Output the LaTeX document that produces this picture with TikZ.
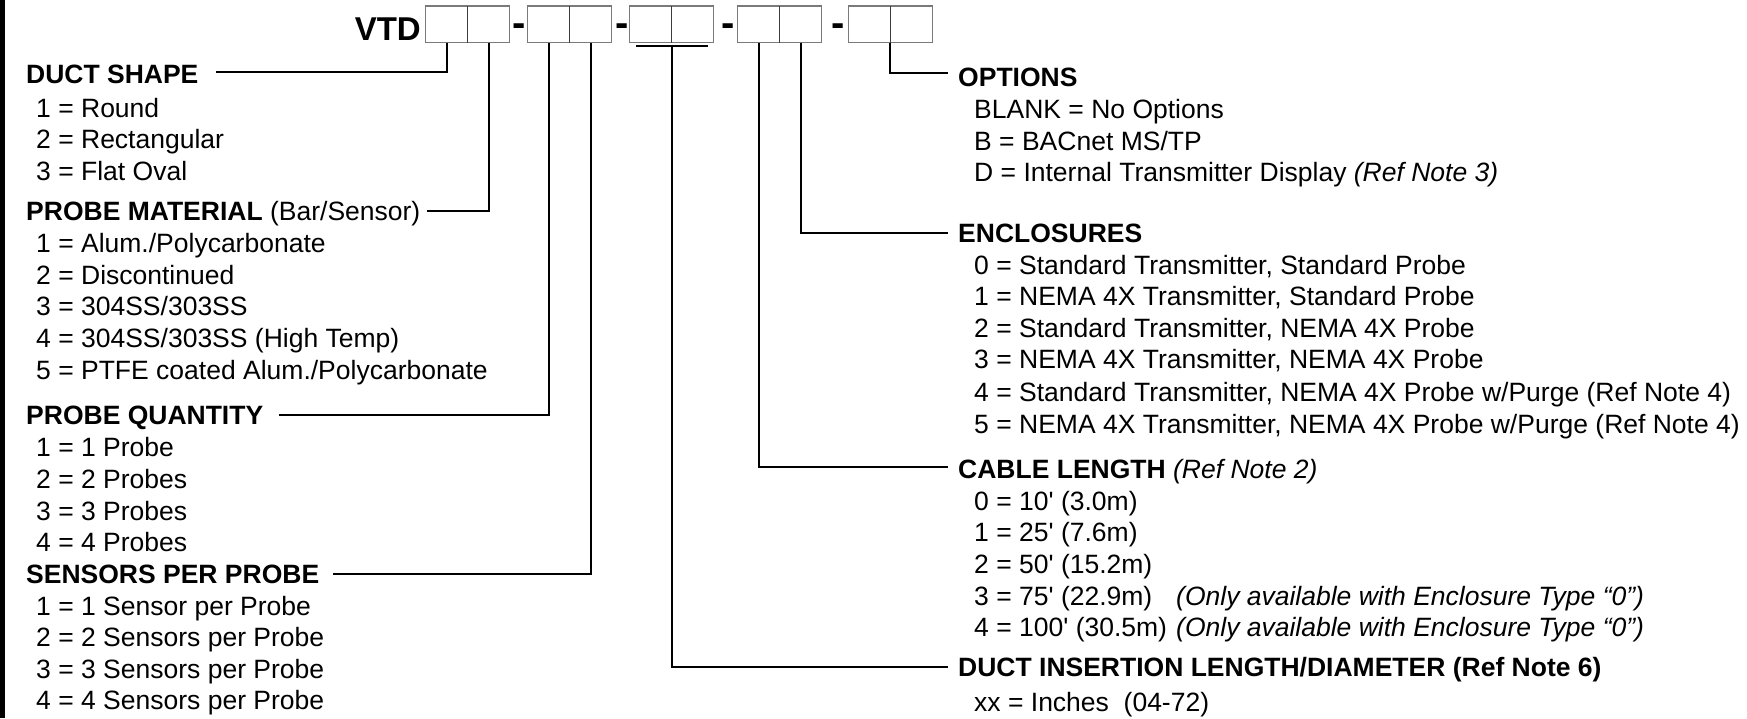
\documentclass[tikz,border=0pt]{standalone}
\usepackage{fontspec}
\setmainfont{Liberation Sans}[Ligatures=TeXOff]
\usetikzlibrary{calc}
\definecolor{boxgray}{HTML}{7A7A7A}
\definecolor{divgray}{HTML}{3C3C3C}
\begin{document}
\begin{tikzpicture}[x=1pt,y=-1pt,
  txt/.style={anchor=base west, inner sep=0pt, font=\fontsize{26.5}{30}\selectfont},
  head/.style={anchor=base west, inner sep=0pt, font=\fontsize{26.5}{30}\selectfont\bfseries, text height=19pt, text depth=0pt},
  conn/.style={line width=2pt, black},
  grp/.style={draw=boxgray, line width=1.5pt, minimum width=84pt, minimum height=36.5pt, inner sep=0pt, outer sep=0pt},
  divl/.style={draw=divgray, line width=1.5pt},
  hyph/.style={anchor=base, inner sep=0pt, font=\fontsize{40}{40}\selectfont\bfseries}
]
\useasboundingbox (0,0) rectangle (1747,718);
\fill[black] (0,0) rectangle (5,718);

% code boxes
\node[anchor=base east, inner sep=0pt, font=\fontsize{33}{33}\selectfont\bfseries] (vtd) at (421,40) {VTD};
\node[grp] (g1) at (467.7,24.25) {};
\node[grp] (g2) at (569.7,24.25) {};
\node[grp] (g3) at (671.7,24.25) {};
\node[grp] (g4) at (779.7,24.25) {};
\node[grp] (g5) at (890.3,24.25) {};
\foreach \g in {g1,g2,g3,g4,g5} { \draw[divl] (\g.north) -- (\g.south); }
\node[hyph] (h1) at (519,36) {-};
\node[hyph] (h2) at (622,36) {-};
\node[hyph] (h3) at (728,36) {-};
\node[hyph] (h4) at (838,36) {-};

% left column
\node[head] (ds) at (26,83.3) {DUCT SHAPE};
\node[txt] (ds1) at (36,117.0) {1 = Round};
\node[txt] (ds2) at (36,148.6) {2 = Rectangular};
\node[txt] (ds3) at (36,180.0) {3 = Flat Oval};
\node[head] (pm) at (26,220.0) {PROBE MATERIAL \textmd{(Bar/Sensor)}};
\node[txt] (pm1) at (36,252.7) {1 = Alum./Polycarbonate};
\node[txt] (pm2) at (36,284.3) {2 = Discontinued};
\node[txt] (pm3) at (36,315.9) {3 = 304SS/303SS};
\node[txt] (pm4) at (36,347.5) {4 = 304SS/303SS (High Temp)};
\node[txt] (pm5) at (36,379.1) {5 = PTFE coated Alum./Polycarbonate};
\node[head] (pq) at (26,424.0) {PROBE QUANTITY};
\node[txt] (pq1) at (36,456.7) {1 = 1 Probe};
\node[txt] (pq2) at (36,488.3) {2 = 2 Probes};
\node[txt] (pq3) at (36,520.0) {3 = 3 Probes};
\node[txt] (pq4) at (36,551.7) {4 = 4 Probes};
\node[head] (spp) at (26,583.0) {SENSORS PER PROBE};
\node[txt] (spp1) at (36,615.0) {1 = 1 Sensor per Probe};
\node[txt] (spp2) at (36,646.5) {2 = 2 Sensors per Probe};
\node[txt] (spp3) at (36,678.0) {3 = 3 Sensors per Probe};
\node[txt] (spp4) at (36,709.5) {4 = 4 Sensors per Probe};

% right column
\node[head] (opt) at (958,86.7) {OPTIONS};
\node[txt] (opt1) at (974,118.3) {BLANK = No Options};
\node[txt] (opt2) at (974,150.0) {B = BACnet MS/TP};
\node[txt] (opt3) at (974,181.7) {D = Internal Transmitter Display \textit{(Ref Note 3)}};
\node[head] (enc) at (958,242.7) {ENCLOSURES};
\node[txt] (enc0) at (974,274.0) {0 = Standard Transmitter, Standard Probe};
\node[txt] (enc1) at (974,305.5) {1 = NEMA 4X Transmitter, Standard Probe};
\node[txt] (enc2) at (974,337.0) {2 = Standard Transmitter, NEMA 4X Probe};
\node[txt] (enc3) at (974,368.5) {3 = NEMA 4X Transmitter, NEMA 4X Probe};
\node[txt] (enc4) at (974,401.0) {4 = Standard Transmitter, NEMA 4X Probe w/Purge (Ref Note 4)};
\node[txt] (enc5) at (974,433.0) {5 = NEMA 4X Transmitter, NEMA 4X Probe w/Purge (Ref Note 4)};
\node[head] (cab) at (958,478.3) {CABLE LENGTH \textmd{\textit{(Ref Note 2)}}};
\node[txt] (cab0) at (974,510.0) {0 = 10' (3.0m)};
\node[txt] (cab1) at (974,541.7) {1 = 25' (7.6m)};
\node[txt] (cab2) at (974,573.3) {2 = 50' (15.2m)};
\node[txt] (cab3) at (974,605.0) {3 = 75' (22.9m)};
\node[txt] (cab3n) at (1176,605.0) {\textit{(Only available with Enclosure Type “0”)}};
\node[txt] (cab4) at (974,636.7) {4 = 100' (30.5m)};
\node[txt] (cab4n) at (1176,636.7) {\textit{(Only available with Enclosure Type “0”)}};
\node[head] (dil) at (958,676.7) {DUCT INSERTION LENGTH/DIAMETER (Ref Note 6)};
\node[txt] (dilx) at (974,711.7) {xx = Inches\ \ (04-72)};

% connectors
\coordinate (g1a) at ($(g1.south west)!0.25!(g1.south east)$);
\coordinate (g1b) at ($(g1.south west)!0.75!(g1.south east)$);
\coordinate (g2a) at ($(g2.south west)!0.25!(g2.south east)$);
\coordinate (g2b) at ($(g2.south west)!0.75!(g2.south east)$);
\coordinate (g4a) at ($(g4.south west)!0.25!(g4.south east)$);
\coordinate (g4b) at ($(g4.south west)!0.75!(g4.south east)$);
\coordinate (g3u) at ([yshift=-3.2pt]g3.south);
\draw[conn] ([xshift=6.5pt,yshift=-3.2pt]g3.south west) -- ([xshift=-6pt,yshift=-3.2pt]g3.south east);

\draw[conn] (g1a) |- ([xshift=17pt,yshift=2pt]ds.east);
\draw[conn] (g1b) |- ([xshift=6pt]pm.east);
\draw[conn] (g2a) |- ([xshift=16pt]pq.east);
\draw[conn] (g2b) |- ([xshift=14pt]spp.east);
\draw[conn] (g3u) |- ([xshift=-10pt]dil.west);
\draw[conn] (g4a) |- ([xshift=-10pt,yshift=2pt]cab.west);
\draw[conn] (g4b) |- ([xshift=-10pt]enc.west);
\draw[conn] (g5.south) |- ([xshift=-10pt,yshift=4pt]opt.west);
\end{tikzpicture}
\end{document}
